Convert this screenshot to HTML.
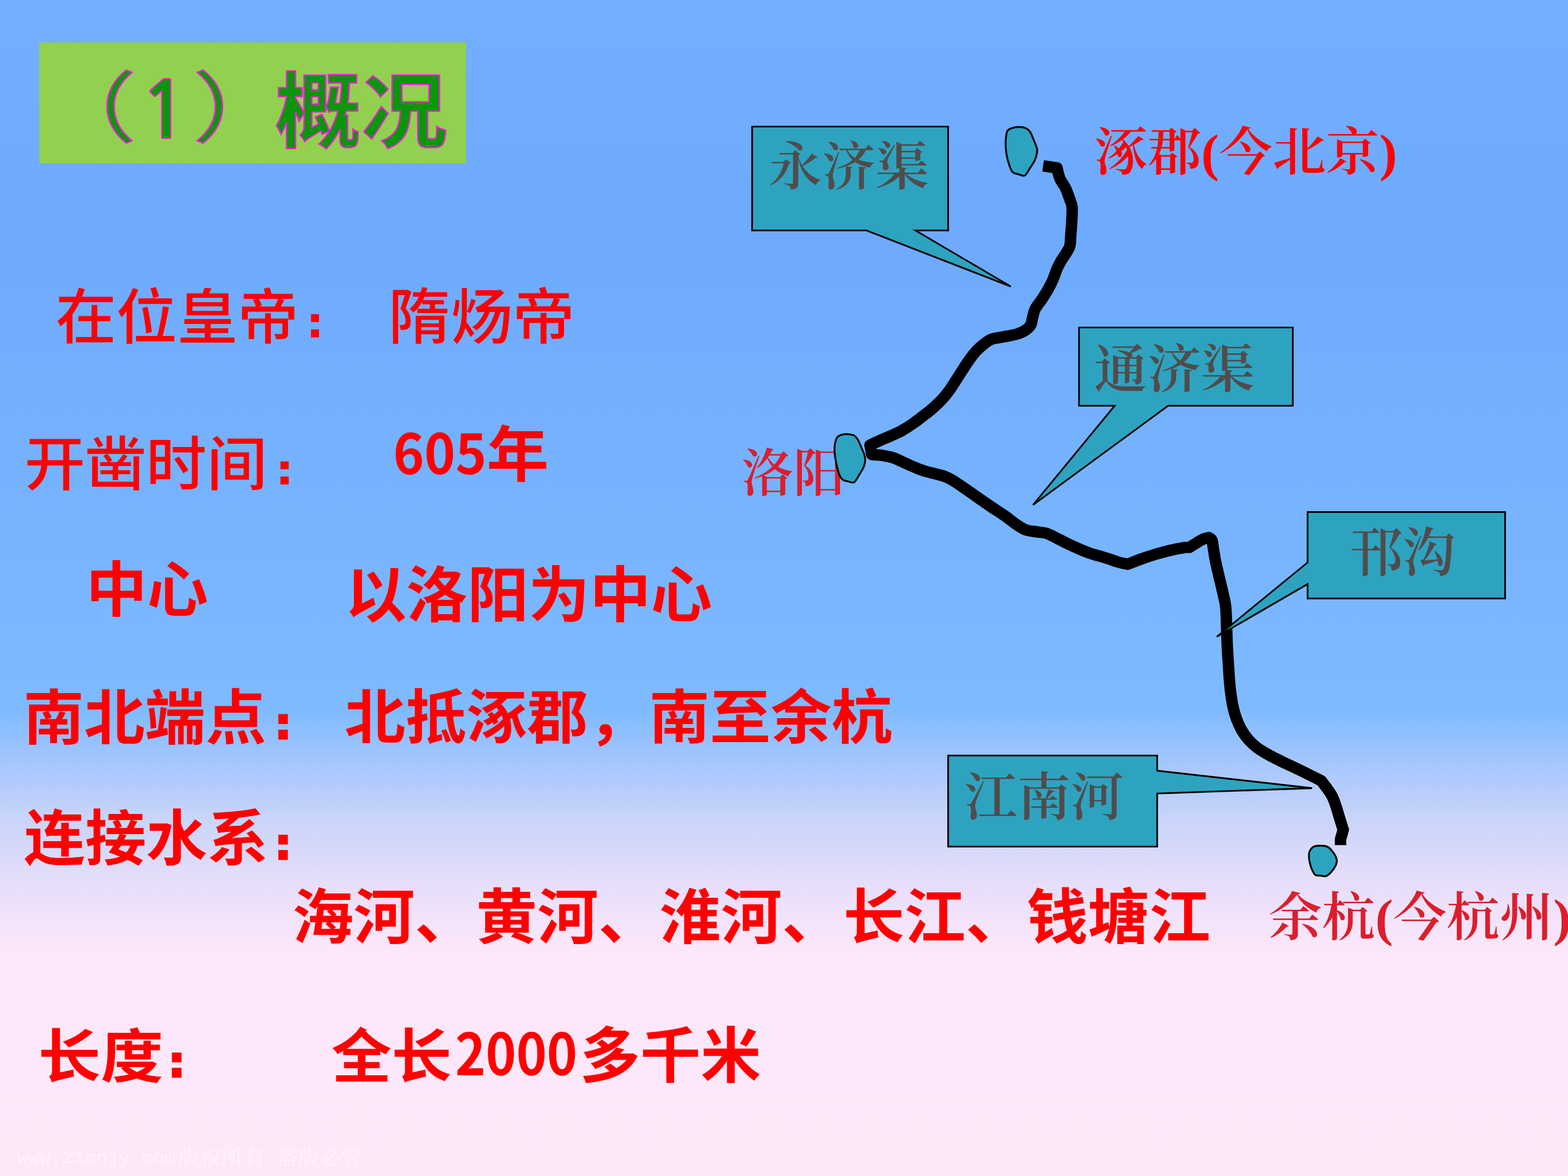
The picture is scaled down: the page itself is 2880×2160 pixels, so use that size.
<!DOCTYPE html>
<html lang="zh-CN">
<head>
<meta charset="utf-8">
<title>（1）概况</title>
<style>
html,body{margin:0;padding:0;overflow:hidden;}
body{width:2880px;height:2160px;background:#73afff;}
#slide{position:absolute;left:0;top:0;width:2880px;height:2160px;overflow:hidden;transform-origin:0 0;background:linear-gradient(to bottom,rgb(115,175,255) 0.00%,rgb(110,170,253) 19.91%,rgb(125,186,255) 60.19%,rgb(165,198,253) 64.81%,rgb(200,212,250) 69.44%,rgb(225,220,250) 74.07%,rgb(245,228,250) 78.70%,rgb(252,232,250) 81.48%,rgb(253,232,250) 100.00%);}
.t{position:absolute;white-space:pre;line-height:1;transform-origin:0 0;margin:0;padding:0;}
.shapes{position:absolute;left:0;top:0;}
#titlebox{position:absolute;left:72px;top:78px;width:784px;height:222px;background:#92d050;}
</style>
</head>
<body>
<div id="slide">
<div id="titlebox"></div>
<div class="t" id="ly" style="left:1361.5px;top:823.0px;font-family:'Liberation Serif','Noto Serif CJK SC',serif;font-weight:600;font-size:99px;color:#dc1e2d;transform:scale(0.9593,0.9677);">洛阳</div>
<svg class="shapes" width="2880" height="2160" viewBox="0 0 2880 2160" aria-hidden="true">
<path d="M1915.9 304.6L1941.5 308.5C1942.4 311.8 1944.1 321.9 1946.8 328.2C1949.5 334.5 1954.4 339.9 1957.4 346.1C1960.4 352.4 1962.8 360.0 1964.7 365.7C1966.7 371.4 1968.5 373.4 1969.1 380.3C1969.7 387.2 1968.9 398.6 1968.5 407.2C1968.1 415.8 1967.3 424.3 1966.7 431.6C1966.1 438.9 1966.5 445.5 1965.1 451.1C1963.7 456.7 1960.8 460.7 1958.3 465.0C1955.8 469.3 1952.9 472.4 1950.2 477.0C1947.5 481.6 1944.7 486.5 1942.0 492.6C1939.3 498.7 1936.9 506.9 1933.9 513.7C1930.9 520.5 1927.6 527.0 1924.1 533.2C1920.6 539.4 1916.5 545.4 1912.7 551.1C1908.9 556.8 1904.1 562.0 1901.4 567.4C1898.7 572.8 1897.9 578.8 1896.5 583.7C1895.1 588.6 1895.4 592.9 1893.2 596.7C1891.0 600.5 1887.8 603.6 1883.5 606.5C1879.2 609.4 1874.0 611.8 1867.2 613.8C1860.4 615.8 1850.4 617.2 1842.8 618.7C1835.2 620.2 1827.3 620.8 1821.6 622.8C1815.9 624.8 1813.2 627.4 1808.6 630.9C1804.0 634.4 1798.5 639.0 1793.9 643.9C1789.3 648.8 1785.2 654.2 1780.9 660.2C1776.6 666.2 1772.5 672.7 1767.9 679.7C1763.3 686.8 1757.1 696.5 1753.2 702.5C1749.3 708.5 1748.3 710.9 1744.5 716.0C1740.7 721.1 1736.1 727.2 1730.4 733.3C1724.7 739.4 1715.5 747.8 1710.1 752.6C1704.7 757.4 1703.4 757.9 1698.0 762.0C1692.6 766.1 1684.6 772.6 1677.6 777.5C1670.6 782.4 1663.1 787.2 1655.9 791.2C1648.7 795.2 1640.5 798.5 1634.2 801.4C1627.9 804.2 1624.0 805.6 1618.0 808.3C1612.0 811.0 1601.2 816.0 1597.9 817.5L1601.2 834.9C1603.1 835.0 1608.8 835.2 1612.5 835.6C1616.2 836.0 1618.9 836.2 1623.4 837.0C1627.9 837.8 1634.3 838.8 1639.7 840.5C1645.1 842.2 1650.5 845.1 1655.9 847.5C1661.3 849.9 1666.8 852.6 1672.2 855.0C1677.6 857.4 1683.1 859.8 1688.5 861.8C1693.9 863.8 1699.4 865.5 1704.8 867.0C1710.2 868.5 1715.6 869.6 1721.0 871.1C1726.4 872.6 1731.9 873.6 1737.3 875.9C1742.7 878.1 1747.3 880.7 1753.6 884.6C1759.9 888.5 1768.1 894.4 1775.3 899.4C1782.5 904.4 1789.5 909.4 1797.0 914.6C1804.5 919.8 1812.1 925.1 1820.0 930.5C1827.9 935.9 1836.3 941.0 1844.4 946.7C1852.5 952.4 1862.0 960.1 1868.8 964.6C1875.6 969.1 1879.1 971.6 1885.1 973.6C1891.1 975.6 1898.6 975.8 1904.6 976.8C1910.6 977.8 1915.5 977.7 1920.9 979.3C1926.3 980.9 1929.6 982.9 1937.2 986.6C1944.8 990.3 1956.2 996.5 1966.5 1001.3C1976.8 1006.0 1988.2 1011.2 1999.0 1015.1C2009.8 1019.0 2022.1 1021.9 2031.6 1024.9C2041.1 1027.9 2049.3 1031.1 2056.0 1033.0C2062.7 1034.9 2068.9 1035.8 2071.5 1036.3C2075.7 1034.7 2087.9 1029.6 2096.7 1026.5C2105.5 1023.4 2115.7 1020.1 2124.4 1017.5C2133.1 1014.9 2140.7 1012.9 2148.8 1011.0C2156.9 1009.1 2167.2 1007.2 2173.2 1006.2C2179.2 1005.2 2182.7 1005.4 2184.6 1005.3C2186.8 1003.9 2193.3 999.8 2197.7 997.2C2202.0 994.6 2206.9 991.5 2210.7 989.9C2214.5 988.3 2218.8 987.8 2220.4 987.4C2221.3 988.2 2224.7 989.0 2226.1 992.3C2227.5 995.6 2227.5 1000.5 2228.6 1007.0C2229.7 1013.5 2231.1 1023.3 2232.7 1031.4C2234.3 1039.5 2236.3 1047.1 2238.3 1055.8C2240.3 1064.5 2242.9 1074.5 2244.9 1083.5C2246.9 1092.5 2249.4 1101.9 2250.6 1109.5C2251.8 1117.1 2251.8 1121.7 2252.2 1129.0C2252.6 1136.3 2252.7 1145.3 2253.0 1153.5C2253.3 1161.7 2253.5 1170.2 2253.8 1177.9C2254.1 1185.7 2254.5 1192.2 2254.9 1200.0C2255.3 1207.8 2256.0 1216.3 2256.5 1224.4C2257.0 1232.5 2257.4 1240.7 2258.1 1248.8C2258.8 1256.9 2259.5 1265.0 2260.6 1273.2C2261.7 1281.4 2262.8 1289.8 2264.6 1297.7C2266.3 1305.6 2268.4 1313.1 2271.1 1320.4C2273.8 1327.7 2277.1 1335.1 2280.9 1341.6C2284.7 1348.1 2289.0 1354.1 2293.9 1359.5C2298.8 1364.9 2303.4 1369.3 2310.2 1374.2C2317.0 1379.1 2326.5 1384.3 2334.6 1388.8C2342.7 1393.3 2350.8 1397.1 2359.0 1401.0C2367.2 1404.9 2375.3 1408.5 2383.5 1412.4C2391.7 1416.3 2400.7 1421.0 2407.9 1424.6C2415.2 1428.2 2423.8 1432.6 2427.0 1434.2C2428.6 1436.4 2433.4 1442.6 2436.7 1447.2C2439.9 1451.8 2443.8 1456.7 2446.5 1461.8C2449.2 1466.9 2450.8 1471.8 2453.0 1478.1C2455.2 1484.3 2457.3 1492.2 2459.5 1499.3C2461.7 1506.3 2464.7 1516.3 2466.0 1520.4C2467.3 1524.5 2467.1 1523.2 2467.3 1523.7L2462.2 1541.5L2462.2 1552.2" fill="none" stroke="#000" stroke-width="21" stroke-linejoin="round" stroke-linecap="butt"/>
<polygon points="1381.5,232.5 1741.5,232.5 1741.5,423.3 1681.5,423.3 1856.5,526.2 1591.5,423.3 1381.5,423.3" fill="#2ea3bf" stroke="#000" stroke-width="3.1" stroke-linejoin="miter" stroke-miterlimit="4"/>
<polygon points="1981.9,601.5 2374.5,601.5 2374.5,745.3 2145.5,745.3 1897.3,927.6 2047.3,745.3 1981.9,745.3" fill="#2ea3bf" stroke="#000" stroke-width="3.1" stroke-linejoin="miter" stroke-miterlimit="4"/>
<polygon points="2401.7,940.5 2764.5,940.5 2764.5,1099.2 2401.7,1099.2 2401.7,1072.8 2235.0,1169.5 2401.7,1033.1" fill="#2ea3bf" stroke="#000" stroke-width="3.1" stroke-linejoin="miter" stroke-miterlimit="4"/>
<polygon points="1741.5,1387.7 2125.5,1387.7 2125.5,1415.6 2410.0,1447.6 2125.5,1457.4 2125.5,1555.0 1741.5,1555.0" fill="#2ea3bf" stroke="#000" stroke-width="3.1" stroke-linejoin="miter" stroke-miterlimit="4"/>
<path d="M1850.0 241.2C1851.8 237.0 1854.6 236.8 1858.1 235.5C1861.6 234.2 1866.8 233.3 1871.1 233.3C1875.4 233.3 1880.7 233.9 1884.2 235.5C1887.7 237.1 1889.9 239.2 1892.3 242.8C1894.7 246.5 1896.8 252.5 1898.8 257.4C1900.8 262.3 1903.5 268.0 1904.5 272.1C1905.5 276.2 1905.2 278.0 1904.5 281.8C1903.8 285.6 1902.4 290.5 1900.4 294.9C1898.4 299.2 1895.3 303.3 1892.3 307.9C1889.3 312.4 1886.0 320.2 1882.5 322.2C1879.0 324.2 1874.9 321.1 1871.1 320.1C1867.3 319.1 1862.8 319.1 1859.8 316.0C1856.8 312.9 1855.1 307.1 1853.2 301.4C1851.3 295.7 1849.4 288.6 1848.4 281.8C1847.4 275.0 1846.8 267.5 1847.1 260.7C1847.4 253.9 1848.2 245.4 1850.0 241.2Z" fill="#2ea3bf" stroke="#000" stroke-width="3.4" stroke-linejoin="round"/>
<path d="M1568.6 885.8C1565.1 887.8 1560.2 884.7 1556.9 884.0C1553.6 883.3 1550.9 883.3 1548.6 881.7C1546.2 880.1 1544.5 878.1 1542.8 874.6C1541.0 871.1 1539.5 865.8 1538.1 860.5C1536.7 855.2 1535.4 848.4 1534.5 842.9C1533.6 837.4 1532.9 832.5 1532.8 827.6C1532.7 822.7 1533.0 817.6 1533.9 813.5C1534.8 809.4 1535.8 805.4 1538.1 802.9C1540.4 800.4 1544.0 799.1 1547.5 798.2C1551.0 797.3 1555.5 797.2 1559.2 797.6C1562.9 798.0 1567.0 798.9 1569.8 800.6C1572.5 802.3 1573.8 804.3 1575.7 807.6C1577.7 810.9 1579.5 816.1 1581.5 820.6C1583.5 825.1 1586.1 830.6 1587.4 834.7C1588.7 838.8 1589.4 841.3 1589.2 845.2C1589.0 849.1 1588.1 853.7 1586.2 858.2C1584.3 862.7 1580.9 867.7 1578.0 872.3C1575.1 876.9 1572.1 883.8 1568.6 885.8Z" fill="#2ea3bf" stroke="#000" stroke-width="3.4" stroke-linejoin="round"/>
<path d="M2405.8 1562.8C2407.2 1560.2 2409.1 1557.0 2412.3 1555.4C2415.6 1553.8 2421.0 1553.3 2425.3 1553.3C2429.6 1553.3 2434.8 1553.8 2438.3 1555.4C2441.8 1557.0 2444.1 1560.0 2446.5 1562.8C2448.9 1565.6 2451.5 1569.5 2453.0 1572.5C2454.5 1575.5 2455.4 1577.7 2455.4 1580.7C2455.4 1583.7 2454.8 1586.9 2453.0 1590.4C2451.2 1593.9 2447.8 1598.7 2444.9 1601.8C2442.1 1604.9 2439.2 1608.0 2435.9 1609.1C2432.6 1610.2 2428.7 1608.7 2425.3 1608.3C2421.9 1607.9 2418.3 1608.9 2415.6 1606.7C2412.9 1604.5 2410.8 1599.6 2409.0 1595.3C2407.2 1591.0 2405.8 1584.8 2405.0 1580.7C2404.2 1576.6 2404.1 1573.9 2404.2 1570.9C2404.3 1567.9 2404.5 1565.4 2405.8 1562.8Z" fill="#2ea3bf" stroke="#000" stroke-width="3.4" stroke-linejoin="round"/>
</svg>
<div class="t" id="tp1" style="left:73.1px;top:117.2px;font-family:'Noto Sans CJK SC','Liberation Sans',sans-serif;font-weight:400;font-size:160px;color:#0a960a;transform:scale(1.1114,0.8826);-webkit-text-stroke:2.6px #ff19e0;">（</div>
<div class="t" id="tn" style="left:256.3px;top:132.6px;font-family:'NanumGothic','Liberation Sans',sans-serif;font-weight:700;font-size:160px;color:#0a960a;transform:scale(0.9465,0.8968);-webkit-text-stroke:2.6px #ff19e0;">1</div>
<div class="t" id="tp2" style="left:353.6px;top:117.2px;font-family:'Noto Sans CJK SC','Liberation Sans',sans-serif;font-weight:400;font-size:160px;color:#0a960a;transform:scale(1.1205,0.8826);-webkit-text-stroke:2.6px #ff19e0;">）</div>
<div class="t" id="title" style="left:505.0px;top:117.3px;font-family:'Noto Sans CJK SC','Liberation Sans',sans-serif;font-weight:700;font-size:160px;color:#0a960a;transform:scale(0.9905,0.9445);-webkit-text-stroke:2.6px #ff19e0;">概况</div>
<div class="t" id="l1a" style="left:101.8px;top:520.2px;font-family:'Noto Sans CJK SC','Liberation Sans',sans-serif;font-weight:500;font-size:113px;color:#ff0000;transform:scale(0.9877,0.9748);">在位皇帝</div>
<div class="t" id="k1" style="left:539.4px;top:551.9px;font-family:'IPAGothic','Noto Sans CJK SC',sans-serif;font-weight:400;font-size:78px;color:#ff0000;transform:scale(1.0143,1.0071);-webkit-text-stroke:5.2px #ff0000;">：</div>
<div class="t" id="l1b" style="left:712.9px;top:519.1px;font-family:'Noto Sans CJK SC','Liberation Sans',sans-serif;font-weight:500;font-size:113px;color:#ff0000;transform:scale(1.0112,0.9840);">隋炀帝</div>
<div class="t" id="l2a" style="left:44.6px;top:790.5px;font-family:'Noto Sans CJK SC','Liberation Sans',sans-serif;font-weight:500;font-size:113px;color:#ff0000;transform:scale(0.9870,0.9509);">开凿时间</div>
<div class="t" id="k2" style="left:482.3px;top:822.1px;font-family:'IPAGothic','Noto Sans CJK SC',sans-serif;font-weight:400;font-size:78px;color:#ff0000;transform:scale(1.0500,1.0000);-webkit-text-stroke:5.2px #ff0000;">：</div>
<div class="t" id="l2b" style="left:721.8px;top:775.8px;font-family:'Noto Sans CJK SC','Liberation Sans',sans-serif;font-weight:700;font-size:112px;color:#ff0000;transform:scale(0.8656,0.9083);">605</div>
<div class="t" id="l2c" style="left:893.8px;top:769.8px;font-family:'Noto Sans CJK SC','Liberation Sans',sans-serif;font-weight:700;font-size:112px;color:#ff0000;transform:scale(1.0163,0.9981);">年</div>
<div class="t" id="l3a" style="left:157.7px;top:1021.3px;font-family:'Noto Sans CJK SC','Liberation Sans',sans-serif;font-weight:700;font-size:113px;color:#ff0000;transform:scale(0.9925,0.9720);">中心</div>
<div class="t" id="l3b" style="left:634.1px;top:1029.1px;font-family:'Noto Sans CJK SC','Liberation Sans',sans-serif;font-weight:700;font-size:113px;color:#ff0000;transform:scale(0.9937,0.9907);">以洛阳为中心</div>
<div class="t" id="l4a" style="left:42.9px;top:1255.2px;font-family:'Noto Sans CJK SC','Liberation Sans',sans-serif;font-weight:700;font-size:113px;color:#ff0000;transform:scale(0.9869,0.9766);">南北端点</div>
<div class="t" id="k4" style="left:482.3px;top:1287.6px;font-family:'IPAGothic','Noto Sans CJK SC',sans-serif;font-weight:400;font-size:78px;color:#ff0000;transform:scale(0.9722,1.0178);-webkit-text-stroke:8.7px #ff0000;">：</div>
<div class="t" id="l4b" style="left:632.8px;top:1255.9px;font-family:'Noto Sans CJK SC','Liberation Sans',sans-serif;font-weight:700;font-size:113px;color:#ff0000;transform:scale(0.9893,0.9550);">北抵涿郡，南至余杭</div>
<div class="t" id="l5a" style="left:43.6px;top:1476.7px;font-family:'Noto Sans CJK SC','Liberation Sans',sans-serif;font-weight:700;font-size:113px;color:#ff0000;transform:scale(0.9935,0.9850);">连接水系</div>
<div class="t" id="k5" style="left:482.3px;top:1509.7px;font-family:'IPAGothic','Noto Sans CJK SC',sans-serif;font-weight:400;font-size:78px;color:#ff0000;transform:scale(0.9722,1.0067);-webkit-text-stroke:8.7px #ff0000;">：</div>
<div class="t" id="l5b" style="left:536.7px;top:1620.7px;font-family:'Noto Sans CJK SC','Liberation Sans',sans-serif;font-weight:700;font-size:113px;color:#ff0000;transform:scale(0.9948,0.9769);">海河、黄河、淮河、长江、钱塘江</div>
<div class="t" id="l6a" style="left:69.7px;top:1878.7px;font-family:'Noto Sans CJK SC','Liberation Sans',sans-serif;font-weight:700;font-size:113px;color:#ff0000;transform:scale(1.0171,0.9491);">长度</div>
<div class="t" id="k6" style="left:286.4px;top:1908.7px;font-family:'IPAGothic','Noto Sans CJK SC',sans-serif;font-weight:400;font-size:78px;color:#ff0000;transform:scale(0.9889,1.0156);-webkit-text-stroke:8.7px #ff0000;">：</div>
<div class="t" id="l6b" style="left:609.3px;top:1877.6px;font-family:'Noto Sans CJK SC','Liberation Sans',sans-serif;font-weight:700;font-size:113px;color:#ff0000;transform:scale(0.9760,0.9598);">全长</div>
<div class="t" id="l6c" style="left:835.9px;top:1877.1px;font-family:'Noto Sans CJK SC','Liberation Sans',sans-serif;font-weight:700;font-size:113px;color:#ff0000;transform:scale(0.8415,0.9376);">2000</div>
<div class="t" id="l6d" style="left:1065.1px;top:1875.1px;font-family:'Noto Sans CJK SC','Liberation Sans',sans-serif;font-weight:700;font-size:113px;color:#ff0000;transform:scale(0.9818,0.9860);">多千米</div>
<div class="t" id="bj" style="left:2010.1px;top:232.6px;font-family:'Liberation Serif','Noto Serif CJK SC',serif;font-weight:600;font-size:99px;color:#ff0000;transform:scale(0.9914,0.9628);">涿郡(今北京)</div>
<div class="t" id="hz" style="left:2330.2px;top:1638.4px;font-family:'Liberation Serif','Noto Serif CJK SC',serif;font-weight:600;font-size:99px;color:#dc1e2d;transform:scale(0.9905,0.9691);">余杭(今杭州)</div>
<div class="t" id="c1" style="left:1412.0px;top:259.9px;font-family:'Liberation Serif','Noto Serif CJK SC',serif;font-weight:600;font-size:99px;color:#504c4c;transform:scale(0.9897,0.9681);">永济渠</div>
<div class="t" id="c2" style="left:2009.3px;top:631.9px;font-family:'Liberation Serif','Noto Serif CJK SC',serif;font-weight:600;font-size:99px;color:#504c4c;transform:scale(0.9955,0.9681);">通济渠</div>
<div class="t" id="c3" style="left:2479.6px;top:967.7px;font-family:'Liberation Serif','Noto Serif CJK SC',serif;font-weight:600;font-size:99px;color:#504c4c;transform:scale(0.9750,0.9710);">邗沟</div>
<div class="t" id="c4" style="left:1771.0px;top:1417.5px;font-family:'Liberation Serif','Noto Serif CJK SC',serif;font-weight:600;font-size:99px;color:#504c4c;transform:scale(0.9863,0.9624);">江南河</div>
<div class="t" id="wm1" style="left:31.0px;top:2113.0px;font-family:'Liberation Mono','Noto Serif CJK SC',monospace;font-weight:400;font-size:35px;color:#fff3fc;transform:scale(0.9918,0.8939);">www.21cnjy.com</div>
<div class="t" id="wm2" style="left:326.8px;top:2108.9px;font-family:'Liberation Serif','Noto Serif CJK SC',serif;font-weight:400;font-size:40px;color:#fff3fc;transform:scale(0.9917,0.9079);word-spacing:12px;">版权所有 盗版必究</div>
</div>
<script>
(function(){
  function fit(){
    var w = window.innerWidth || document.documentElement.clientWidth;
    if (!w || Math.abs(w - 2880) < 1) return;
    var k = w / 2880, el = document.getElementById('slide');
    el.style.transform = 'scale(' + k + ')';
    document.body.style.width = (2880 * k) + 'px';
    document.body.style.height = (2160 * k) + 'px';
  }
  fit();
  window.addEventListener('resize', fit);
})();
</script>
</body>
</html>
